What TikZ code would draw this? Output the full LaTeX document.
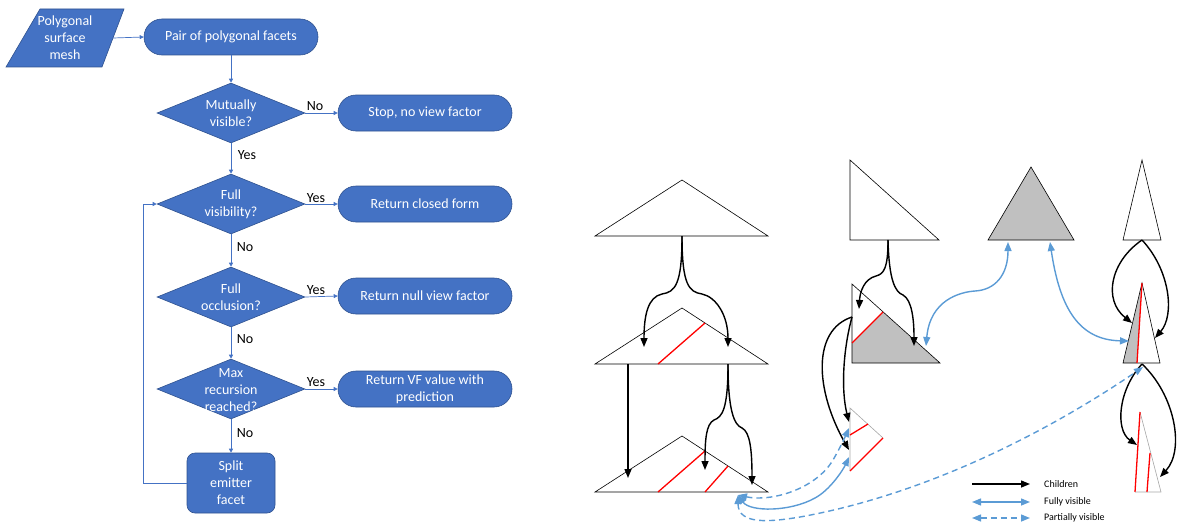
\documentclass[tikz,border=0pt]{standalone}
\usepackage{fontspec}
\setmainfont{Carlito}
\usetikzlibrary{arrows.meta,shapes.geometric}
\definecolor{fcblue}{HTML}{4472C4}
\definecolor{fcedge}{HTML}{2F528F}
\definecolor{visblue}{HTML}{5B9BD5}
\definecolor{greyfill}{HTML}{C0C0C0}
\definecolor{edgegray}{HTML}{A6A6A6}
\definecolor{redline}{HTML}{FF0000}
\begin{document}
\begin{tikzpicture}[x=1pt,y=-1pt,
  fcfont/.style={font=\fontsize{14}{17}\selectfont},
  fc/.style={fill=fcblue,draw=fcedge,line width=0.6pt,text=white,fcfont,align=center,inner sep=0pt},
  term/.style={fc,rounded corners=18pt,minimum width=174pt,minimum height=36pt},
  dec/.style={fc,diamond,minimum width=148pt,minimum height=60pt},
  dectxt/.style={text=white,fcfont,align=center,inner sep=0pt},
  flow/.style={draw=fcblue,line width=0.7pt,-{Triangle[width=4pt,length=4pt]}},
  lbl/.style={fcfont,inner sep=0pt},
  tri/.style={draw=black,line width=0.6pt,line join=miter},
  grayedge/.style={draw=edgegray,line width=0.6pt},
  redl/.style={draw=redline,line width=1.3pt},
  child/.style={draw=black,line width=1.4pt,-{Triangle[width=7pt,length=9pt]}},
  fully/.style={draw=visblue,line width=1.4pt,{Triangle[width=7pt,length=9pt]}-{Triangle[width=7pt,length=9pt]}},
  partial/.style={fully,dash pattern=on 6pt off 4pt},
  legtxt/.style={font=\fontsize{10}{12}\selectfont,anchor=west,inner sep=0pt}
]
\useasboundingbox (0,0) rectangle (1180,527);

% ---------- Flowchart ----------
\filldraw[fill=fcblue,draw=fcedge,line width=0.6pt] (40,9) -- (124,9) -- (102,67) -- (6,67) -- cycle;
\node[dectxt] (mesh) at (65,38) {Polygonal\\surface\\mesh};
\coordinate (meshR) at (113,38);

\node[term] (pair) at (231,37) {Pair of polygonal facets};

\node[dec] (d1) at (231,113) {};
\node[dectxt] (d1t) at (231,113) {Mutually\\visible?};
\node[term] (stop) at (425,113) {Stop, no view factor};

\node[dec] (d2) at (231,204) {};
\node[dectxt] (d2t) at (231,204) {Full\\visibility?};
\node[term] (closed) at (425,204) {Return closed form};

\node[dec] (d3) at (231,297) {};
\node[dectxt] (d3t) at (231,297) {Full\\occlusion?};
\node[term] (null) at (425,296) {Return null view factor};

\node[dec] (d4) at (231,389) {};
\node[dectxt] (d4t) at (231,390) {Max\\recursion\\reached?};
\node[term] (vf) at (425,389) {Return VF value with\\prediction};

\node[fc,rounded corners=8pt,minimum width=88pt,minimum height=60pt] (split) at (231,483) {Split\\emitter\\facet};

\draw[flow] (meshR) -- (pair.west);
\draw[flow] (pair.south) -- (d1.north);
\draw[flow] (d1.east) -- (stop.west);
\draw[flow] (d1.south) -- (d2.north);
\draw[flow] (d2.east) -- (closed.west);
\draw[flow] (d2.south) -- (d3.north);
\draw[flow] (d3.east) -- (null.west);
\draw[flow] (d3.south) -- (d4.north);
\draw[flow] (d4.east) -- (vf.west);
\draw[flow] (d4.south) -- (split.north);
\draw[flow] (split.west) -- ++(-43,0) |- (d2.west);

\node[lbl] (no1) at (315,106) {No};
\node[lbl] (yes1) at (247,155) {Yes};
\node[lbl] (yes2) at (316,198) {Yes};
\node[lbl] (no2) at (245,247) {No};
\node[lbl] (yes3) at (316,290) {Yes};
\node[lbl] (no3) at (245,339) {No};
\node[lbl] (yes4) at (316,382) {Yes};
\node[lbl] (no4) at (245,433) {No};

% ---------- Tree 1 ----------
\draw[tri] (595,236) -- (682,180) -- (768,236) -- cycle;
\draw[tri] (595,364) -- (682,308) -- (768,364) -- cycle;
\draw[redl] (658,364) -- (705,323);
\draw[tri] (595,492) -- (682,436) -- (768,492) -- cycle;
\draw[redl] (658,492) -- (705,451);
\draw[redl] (705,492) -- (728,466);

\coordinate (t1a) at (682,236);
\coordinate (t1bl) at (644,347);
\coordinate (t1br) at (728,347);
\coordinate (t1s1) at (628,364);
\coordinate (t1s2) at (728,364);
\coordinate (t1c1) at (628,478);
\coordinate (t1c2) at (705,470);
\coordinate (t1c3) at (752,485);
\coordinate (t1hub) at (738,495);

\draw[child] (t1a) .. controls (682,285) and (675,292) .. (662,294) .. controls (648,297) and (644,315) .. (t1bl);
\draw[child] (t1a) .. controls (682,285) and (689,292) .. (702,294) .. controls (716,297) and (728,315) .. (t1br);
\draw[child] (t1s1) -- (t1c1);
\draw[child] (t1s2) .. controls (728,410) and (722,417) .. (714,420) .. controls (706,424) and (705,440) .. (t1c2);
\draw[child] (t1s2) .. controls (728,410) and (734,425) .. (742,428) .. controls (750,432) and (752,450) .. (t1c3);

% ---------- Tree 2 ----------
\draw[tri] (850,160) -- (850,240) -- (939,240) -- cycle;
\fill[greyfill] (852,343) -- (883,312) -- (940,363) -- (852,363) -- cycle;
\draw[tri] (852,284) -- (852,363) -- (940,363) -- cycle;
\draw[redl] (852,343) -- (883,312);
\draw[grayedge] (883,438) -- (850,408) -- (850,471);
\draw[redl] (850,471) -- (883,438);
\draw[redl] (850,435) -- (868,424);

\coordinate (t2a) at (888,240);
\coordinate (t2bl) at (859,309);
\coordinate (t2br) at (914,346);
\coordinate (t2s) at (852,317);
\coordinate (t2c1) at (849,422);
\coordinate (t2c2) at (849,450);
\coordinate (t2vis) at (926,346);
\coordinate (t2cp) at (849,428);
\coordinate (t2cf) at (849,457);

\draw[child] (t2a) .. controls (888,268) and (884,274) .. (876,276) .. controls (864,279) and (860,292) .. (t2bl);
\draw[child] (t2a) .. controls (889,280) and (895,292) .. (903,295) .. controls (912,300) and (914,320) .. (t2br);
\draw[child] (t2s) .. controls (843,350) and (841,390) .. (t2c1);
\draw[child] (t2s) .. controls (812,330) and (815,390) .. (t2c2);

% ---------- Gray triangle ----------
\filldraw[fill=greyfill,tri] (988,240) -- (1031,167) -- (1074,240) -- cycle;
\coordinate (dl) at (1008,242);
\coordinate (dr) at (1050,242);

% ---------- Tree 3 ----------
\draw[tri] (1123,240) -- (1142,160) -- (1161,240) -- cycle;
\fill[greyfill] (1123,363) -- (1142,283) -- (1137,363) -- cycle;
\draw[tri] (1123,363) -- (1142,283) -- (1160,363) -- cycle;
\draw[redl] (1142,283) -- (1137,363);
\draw[grayedge] (1140,412) -- (1161,492) -- (1135,492);
\draw[redl] (1140,412) -- (1135,492);
\draw[redl] (1150,453) -- (1147,492);

\coordinate (t3a) at (1142,240);
\coordinate (t3bl) at (1132,323);
\coordinate (t3br) at (1155,338);
\coordinate (t3s) at (1142,364);
\coordinate (t3cl) at (1137,445);
\coordinate (t3cr) at (1160,477);
\coordinate (t3vis) at (1129,341);
\coordinate (t3bot) at (1143,367);

\draw[child] (t3a) .. controls (1110,262) and (1103,300) .. (t3bl);
\draw[child] (t3a) .. controls (1170,270) and (1175,315) .. (t3br);
\draw[child] (t3s) .. controls (1118,390) and (1115,430) .. (t3cl);
\draw[child] (t3s) .. controls (1175,395) and (1185,450) .. (t3cr);

% ---------- Visibility links ----------
\draw[fully] (t2vis) .. controls (930,300) and (960,292) .. (975,291) .. controls (995,290) and (1008,275) .. (dl);
\draw[fully] (dr) .. controls (1060,310) and (1080,340) .. (t3vis);
\draw[partial] (t1hub) .. controls (770,502) and (815,490) .. (833,460) .. controls (840,448) and (845,437) .. (t2cp);
\draw[fully] (t1hub) .. controls (750,512) and (790,512) .. (815,498) .. controls (830,490) and (843,470) .. (t2cf);
\draw[partial] (t1hub) .. controls (738,525) and (770,522) .. (800,517) .. controls (950,490) and (1080,410) .. (t3bot);

% ---------- Legend ----------
\coordinate (l1a) at (972,484); \coordinate (l1b) at (1030,484);
\coordinate (l2a) at (972,502); \coordinate (l2b) at (1030,502);
\coordinate (l3a) at (972,518); \coordinate (l3b) at (1030,518);
\draw[child] (l1a) -- (l1b);
\draw[fully] (l2a) -- (l2b);
\draw[partial] (l3a) -- (l3b);
\node[legtxt] (leg1) at (1044,484) {Children};
\node[legtxt] (leg2) at (1044,502) {Fully visible};
\node[legtxt] (leg3) at (1044,518) {Partially visible};
\end{tikzpicture}
\end{document}
